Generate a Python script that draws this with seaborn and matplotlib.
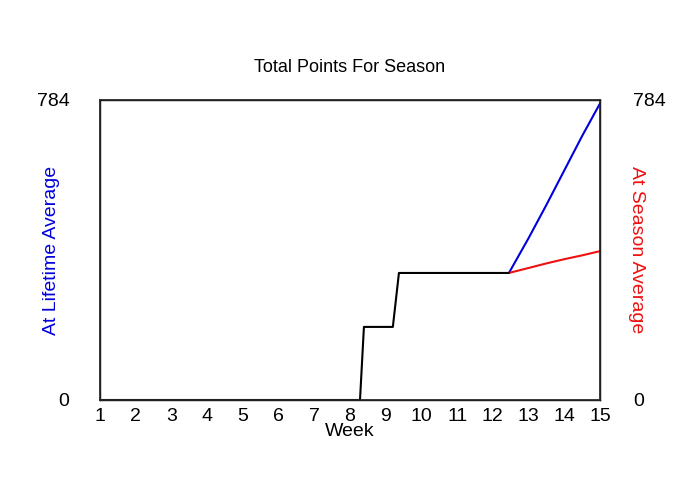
import matplotlib
matplotlib.use("Agg")
import matplotlib.pyplot as plt
import seaborn as sns
import pandas as pd

sns.set_theme(style="white")
plt.rcParams['font.family'] = ['Liberation Sans', 'DejaVu Sans']
plt.rcParams['text.color'] = 'black'
plt.rcParams['xtick.color'] = 'black'
plt.rcParams['ytick.color'] = 'black'
plt.rcParams['axes.labelcolor'] = 'black'

actual_x = [1, 8.28, 8.39, 9.2, 9.37, 12.45]
actual_y = [0, 0, 191, 191, 332, 332]
life_x = [12.45, 13, 13.5, 14, 14.5, 15]
life_y = [332, 423, 510, 600, 690, 775]
season_x = [12.45, 13, 13.5, 14, 14.5, 15]
season_y = [332, 345, 357, 368, 378, 389]
ymax = 784
weeks = list(range(1, 16))

fig = plt.figure(figsize=(7, 5), dpi=100)
ax = fig.add_axes([100/700, 100/500, 500/700, 300/500])
sns.lineplot(data=pd.DataFrame({'x': life_x, 'y': life_y}), x='x', y='y', ax=ax, color='#0000dd', lw=1.5)
sns.lineplot(data=pd.DataFrame({'x': season_x, 'y': season_y}), x='x', y='y', ax=ax, color='#ee1111', lw=1.5)
sns.lineplot(data=pd.DataFrame({'x': actual_x, 'y': actual_y}), x='x', y='y', ax=ax, color='black', lw=1.5)
ax.set_xlim(1, 15)
ax.set_ylim(0, ymax)
ax.set_xticks(weeks)
ax.set_yticks([0, ymax])
ax.tick_params(labelsize=14, length=0, pad=6)
ax.tick_params(axis='y', pad=22)
ax.set_xlabel('Week', fontsize=14, labelpad=-2)
ax.set_ylabel('At Lifetime Average', fontsize=14, color='#0000dd')
ax.yaxis.set_label_coords(-0.08, 0.5)
ax.set_title('Total Points For Season', fontsize=13, pad=20)
for s in ax.spines.values():
    s.set_color('black'); s.set_linewidth(1)
ax2 = ax.twinx()
ax2.set_ylim(0, ymax)
ax2.set_yticks([0, ymax])
ax2.tick_params(labelsize=14, length=0, pad=24)
ax2.set_ylabel('At Season Average', fontsize=14, color='#ee1111', rotation=270, va='bottom')
ax2.yaxis.set_label_coords(1.055, 0.5)
fig.savefig('out.png', dpi=100)
